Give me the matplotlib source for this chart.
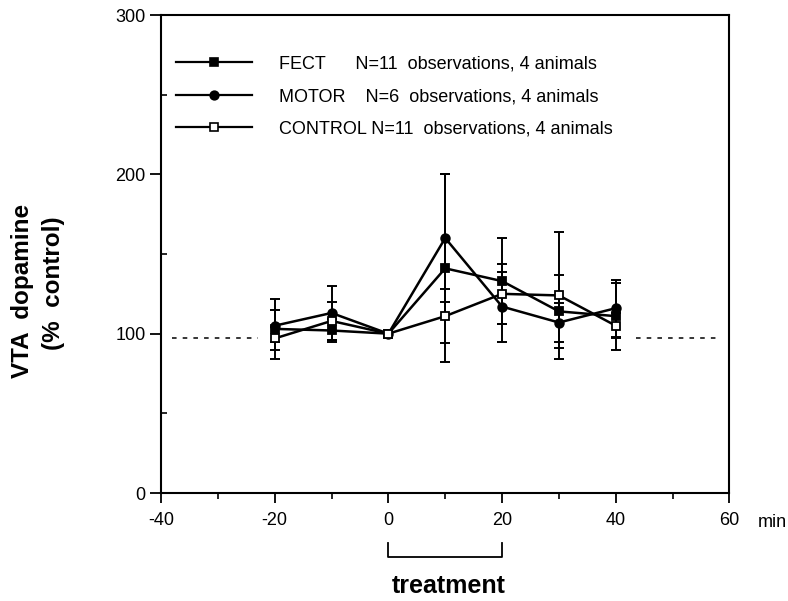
import matplotlib.pyplot as plt
from matplotlib.lines import Line2D

plt.rcParams["font.family"] = ["Liberation Sans", "DejaVu Sans"]

# time points (min) relative to treatment onset
minutes = [-20, -10, 0, 10, 20, 30, 40]

# VTA dopamine, % of control, with error bars
fect = [103, 102, 100, 141, 133, 114, 111]
fect_err = [19, 7, 0, 59, 27, 23, 21]
motor = [105, 113, 100, 160, 117, 107, 116]
motor_err = [10, 17, 0, 40, 22, 12, 18]
control = [97, 108, 100, 111, 125, 124, 105]
control_err = [7, 12, 0, 17, 19, 40, 8]

labels = [
    "FECT      N=11  observations, 4 animals",
    "MOTOR    N=6  observations, 4 animals",
    "CONTROL N=11  observations, 4 animals",
]

baseline = 97
baseline_left = (-38, -23)
baseline_right = (43.5, 58.5)
treatment_start, treatment_end = 0, 20

fig = plt.figure(figsize=(7.88, 6.01), dpi=100)
ax = fig.add_axes([0.2043, 0.1797, 0.7214, 0.7953])

series = [
    (fect, fect_err, dict(marker="s", markersize=6, markerfacecolor="black")),
    (motor, motor_err, dict(marker="o", markersize=6.2, markerfacecolor="black")),
    (control, control_err, dict(marker="s", markersize=6.3, markerfacecolor="white")),
]

handles = []
for (vals, errs, style), lab in zip(series, labels):
    ax.errorbar(minutes, vals, yerr=errs, fmt="none", ecolor="black",
                elinewidth=1.4, capsize=3.6, capthick=1.4, zorder=2)
    ax.plot(minutes, vals, color="black", lw=1.8, markeredgecolor="black",
            markeredgewidth=1.3, zorder=3, **style)
    handles.append(Line2D([], [], color="black", lw=1.6, markeredgecolor="black",
                          markeredgewidth=1.2, label=lab, **style))

# dotted baseline either side of the data
ax.hlines(baseline, *baseline_left, colors="black", linestyles=(0, (3, 4)), lw=1.1)
ax.hlines(baseline, *baseline_right, colors="black", linestyles=(0, (3, 4)), lw=1.1)

ax.set_xlim(-40, 60)
ax.set_ylim(0, 300)
ax.set_xticks([-40, -20, 0, 20, 40, 60])
ax.set_xticklabels(["-40", "-20", "0", "20", "40", "60"])
ax.set_xticks([-30, -10, 10, 30, 50], minor=True)
ax.set_yticks([0, 100, 200, 300])
ax.set_yticks([50, 150, 250], minor=True)
ax.tick_params(axis="x", which="major", direction="out", length=7, width=1.3,
               labelsize=13, pad=7)
ax.tick_params(axis="x", which="minor", direction="out", length=4, width=1.2)
ax.tick_params(axis="y", which="major", direction="out", length=8, width=1.3,
               labelsize=13, pad=3)
ax.tick_params(axis="y", which="minor", direction="in", length=4, width=1.2)
for sp in ax.spines.values():
    sp.set_linewidth(1.5)

leg = ax.legend(handles=handles, loc="upper left", bbox_to_anchor=(0.026, 0.915),
                frameon=False, fontsize=13, handlelength=4.2, handletextpad=1.5,
                labelspacing=0.85, borderpad=0, borderaxespad=0, numpoints=1)

# treatment bracket under the x axis
trans = ax.get_xaxis_transform()
ax.plot([treatment_start, treatment_start, treatment_end, treatment_end],
        [-0.105, -0.134, -0.134, -0.105], color="black", lw=1.3,
        transform=trans, clip_on=False)
ax.text((treatment_start + treatment_end) / 2 + 0.6, -0.195, "treatment",
        transform=trans, ha="center", va="center", fontsize=18,
        fontweight="bold")

fig.text(0.962, 0.131, "min", fontsize=13, ha="left", va="center")
fig.text(0.029, 0.516, "VTA  dopamine", rotation=90, fontsize=17.5,
         fontweight="bold", ha="center", va="center")
fig.text(0.068, 0.529, "(%  control)", rotation=90, fontsize=17.5,
         fontweight="bold", ha="center", va="center")

fig.savefig("out.png", dpi=100)
